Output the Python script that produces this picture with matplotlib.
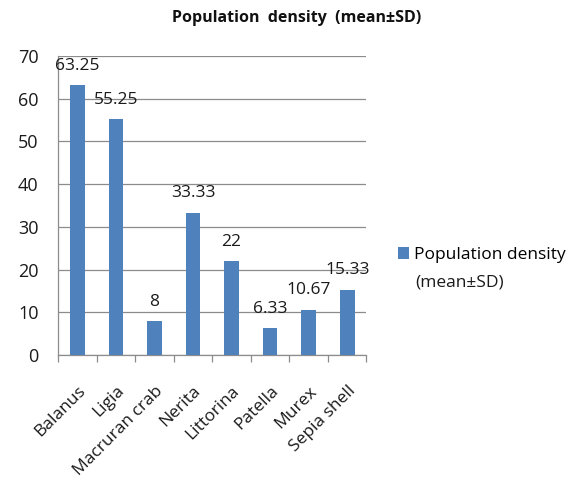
import matplotlib.pyplot as plt
from matplotlib.patches import Patch
from matplotlib.ticker import FixedLocator

species = ["Balanus", "Ligia", "Macruran crab", "Nerita", "Littorina",
           "Patella", "Murex", "Sepia shell"]
density = [63.25, 55.25, 8, 33.33, 22, 6.33, 10.67, 15.33]
value_labels = ["63.25", "55.25", "8", "33.33", "22", "6.33", "10.67", "15.33"]
y_ticks = [0, 10, 20, 30, 40, 50, 60, 70]

bar_color = "#4F81BD"
grid_color = "#8C8C8C"
text_color = "#1a1a1a"

plt.rcParams["font.family"] = ["Open Sans", "DejaVu Sans"]

fig = plt.figure(figsize=(5.81, 4.78), dpi=100)
ax = fig.add_axes([0.0998, 0.257, 0.531, 0.626])

x = list(range(len(species)))
ax.bar(x, density, width=0.38, color=bar_color, zorder=3)

for xi, v, lab in zip(x, density, value_labels):
    ax.annotate(lab, (xi, v), xytext=(0, 11), textcoords="offset points",
                ha="center", va="baseline", fontsize=12.5, color=text_color)

ax.set_xlim(-0.5, len(species) - 0.5)
ax.set_ylim(0, 70)
ax.set_yticks(y_ticks)
ax.yaxis.grid(True, color=grid_color, linewidth=0.9, zorder=0)
ax.tick_params(axis="y", length=0, pad=14, labelsize=13, labelcolor=text_color)

# category labels rotated, tick marks between categories
ax.set_xticks(x)
ax.set_xticklabels(species, rotation=45, ha="right", rotation_mode="anchor",
                   fontsize=12.5, color=text_color)
ax.tick_params(axis="x", length=0, pad=20)
ax.xaxis.set_minor_locator(FixedLocator([i - 0.5 for i in range(len(species) + 1)]))
ax.tick_params(axis="x", which="minor", length=5, color=grid_color, width=0.9)

for s in ["top", "right"]:
    ax.spines[s].set_visible(False)
for s in ["left", "bottom"]:
    ax.spines[s].set_color(grid_color)
    ax.spines[s].set_linewidth(0.9)

fig.text(0.511, 0.962, "Population  density  (mean±SD)", ha="center", va="center",
         fontsize=11.5, fontweight="bold", color="#111111")

handle = Patch(facecolor=bar_color, edgecolor="none")
fig.legend([handle], ["Population density"], loc="center left",
           bbox_to_anchor=(0.685, 0.4665), frameon=False, fontsize=12.5,
           borderpad=0, borderaxespad=0,
           handlelength=0.65, handleheight=0.65, handletextpad=0.3)
fig.text(0.714, 0.41, "(mean±SD)", ha="left", va="center",
         fontsize=12.5, color=text_color)

fig.savefig("out.png", dpi=100)
